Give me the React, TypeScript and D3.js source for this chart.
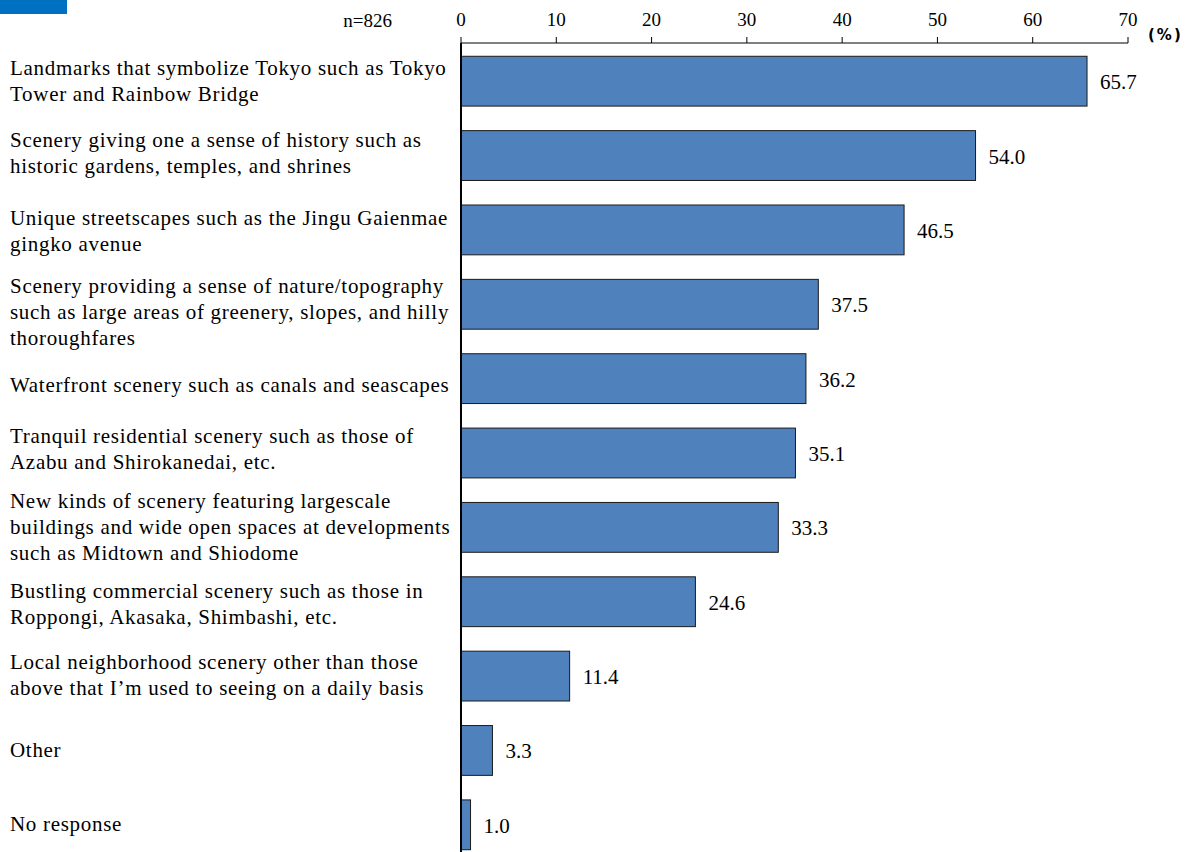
import React from "react";
import * as d3 from "d3";

const categories: string[][] = [
  ["Landmarks that symbolize Tokyo such as Tokyo", "Tower and Rainbow Bridge"],
  ["Scenery giving one a sense of history such as", "historic gardens, temples, and shrines"],
  ["Unique streetscapes such as the Jingu Gaienmae", "gingko avenue"],
  ["Scenery providing a sense of nature/topography", "such as large areas of greenery, slopes, and hilly", "thoroughfares"],
  ["Waterfront scenery such as canals and seascapes"],
  ["Tranquil residential scenery such as those of", "Azabu and Shirokanedai, etc."],
  ["New kinds of scenery featuring largescale", "buildings and wide open spaces at developments", "such as Midtown and Shiodome"],
  ["Bustling commercial scenery such as those in", "Roppongi, Akasaka, Shimbashi, etc."],
  ["Local neighborhood scenery other than those", "above that I\u2019m used to seeing on a daily basis"],
  ["Other"],
  ["No response"],
];
const values: number[] = [65.7, 54.0, 46.5, 37.5, 36.2, 35.1, 33.3, 24.6, 11.4, 3.3, 1.0];
const ticks: number[] = [0, 10, 20, 30, 40, 50, 60, 70];

// layout-only nudges for label blocks (px)
const labelShift: number[] = [0, -3, 1, 8, 6, -4, 0, 2, -1, 0, -1];

const W = 1186;
const H = 852;
const x0 = 461;
const x1 = 1128;
const axisY = 43;
const top = 44;
const bottom = 862;
const serif = "'Liberation Serif', 'Times New Roman', serif";

export default function App() {
  const x = d3.scaleLinear().domain([0, 70]).range([x0, x1]);
  const idx = categories.map((_, i) => String(i));
  const y = d3.scaleBand().domain(idx).range([top, bottom]).paddingInner(0.33).paddingOuter(0.165);
  const lh = 26;
  return (
    <svg width={W} height={H} style={{ position: "absolute", left: 0, top: 0, background: "#fff" }}>
      <rect x={0} y={0} width={67} height={14} fill="#0070C0" />
      <text x={392} y={27} textAnchor="end" fontFamily={serif} fontSize={19} fill="#000">n=826</text>
      {ticks.map((t) => (
        <g key={t}>
          <line x1={x(t)} x2={x(t)} y1={axisY - 6} y2={axisY} stroke="#000" strokeWidth={1} />
          <text x={x(t)} y={26} textAnchor="middle" fontFamily={serif} fontSize={19} fill="#000">{t}</text>
        </g>
      ))}
      <text x={1148} y={40} fontFamily="'DejaVu Sans', sans-serif" fontWeight="bold" fontSize={15} letterSpacing={2} fill="#000">(%)</text>
      <line x1={x0} x2={x1} y1={axisY} y2={axisY} stroke="#000" strokeWidth={1} />
      {values.map((v, i) => {
        const by = y(String(i)) as number;
        const bh = y.bandwidth();
        return (
          <g key={i}>
            <rect x={x(0)} y={by} width={x(v) - x(0)} height={bh} fill="#4F81BD" stroke="#1a1a1a" strokeWidth={1} />
            <text x={x(v) + 13} y={by + bh / 2 + 8} fontFamily={serif} fontSize={21} fill="#000">{v.toFixed(1)}</text>
          </g>
        );
      })}
      <line x1={x0} x2={x0} y1={axisY} y2={H} stroke="#000" strokeWidth={2} />
      {categories.map((lines, i) => {
        const cy = (y(String(i)) as number) + y.bandwidth() / 2 + labelShift[i];
        const start = cy - ((lines.length - 1) * lh) / 2;
        return (
          <text key={i} fontFamily={serif} fontSize={21} letterSpacing={0.7} fill="#000">
            {lines.map((l, j) => (
              <tspan key={j} x={10} y={start + j * lh + 7}>{l}</tspan>
            ))}
          </text>
        );
      })}
    </svg>
  );
}
